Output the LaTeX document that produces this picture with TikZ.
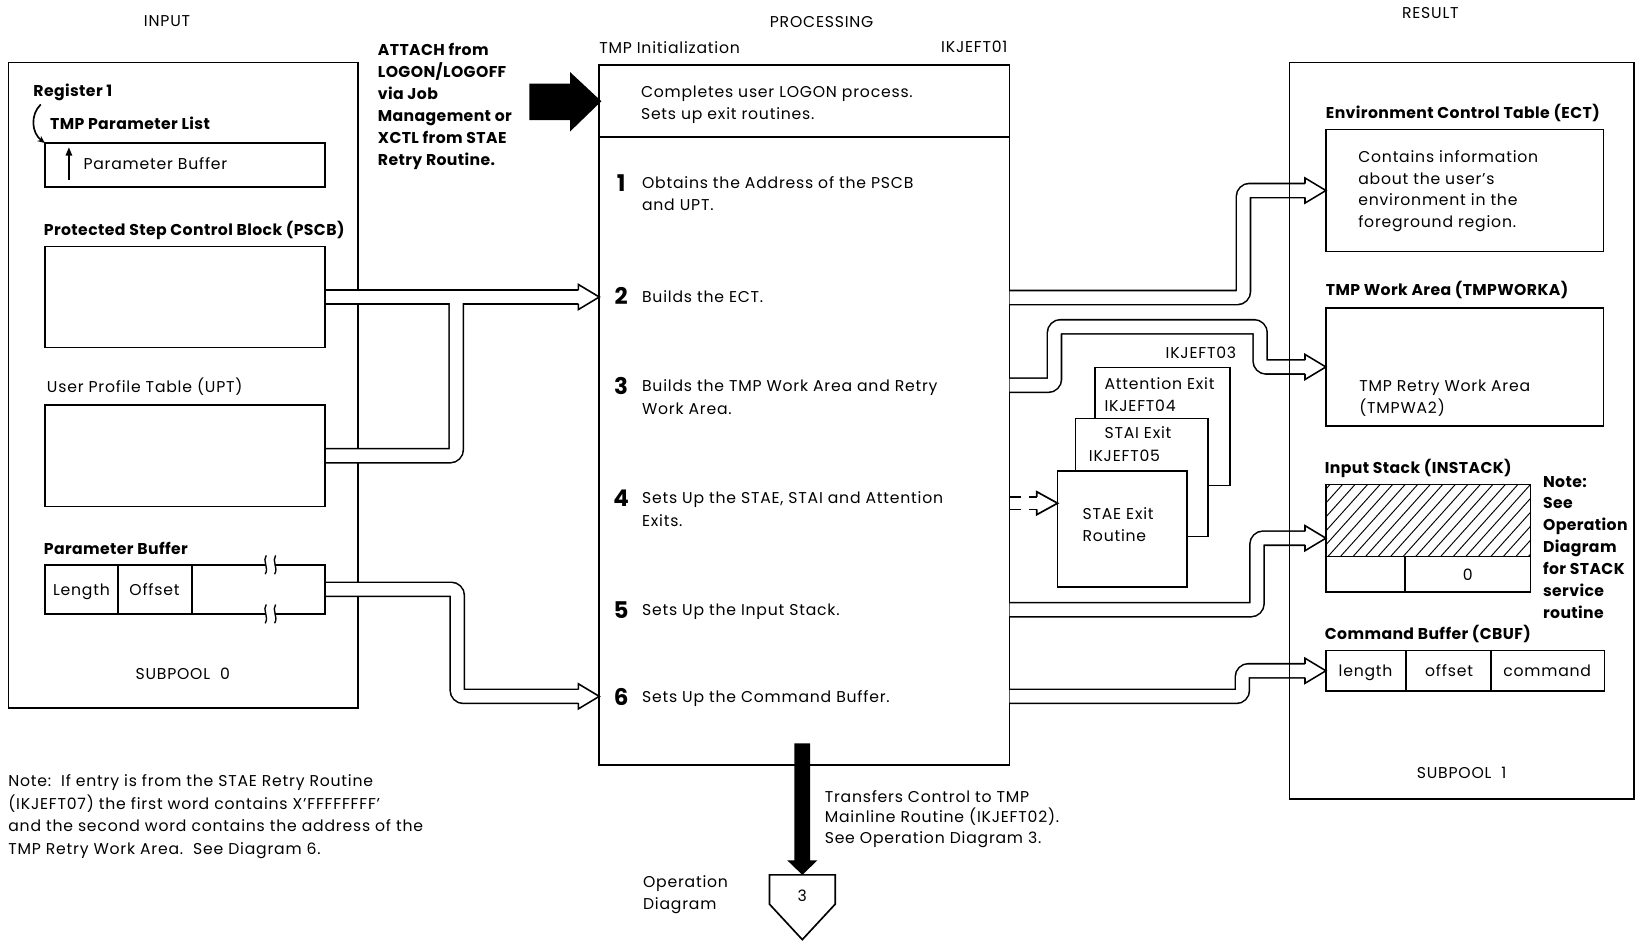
\documentclass[tikz,border=0pt]{standalone}
\usepackage{fontspec}
\setmainfont{Poppins}[LetterSpace=5,BoldFeatures={LetterSpace=2.5}]
\usetikzlibrary{arrows.meta,calc}
\newcommand\fs{\fontsize{15}{18}\selectfont}
\newcommand\fn{\fontsize{22}{24}\selectfont\bfseries}
\newcommand\bx[5]{\node[bxs, minimum width=#4pt, minimum height=#5pt] (#1) at (#2,#3) {};}
\begin{document}
\begin{tikzpicture}[x=1pt,y=-1pt,
  every node/.style={inner sep=0pt, outer sep=0pt},
  t/.style={anchor=base west, font=\fs, yshift=-5.3pt},
  tb/.style={t, font=\fs\bfseries},
  tc/.style={t, anchor=base},
  tr/.style={t, anchor=base east},
  num/.style={anchor=base, font=\fn, yshift=-8pt},
  bxs/.style={draw, line width=1.6pt, anchor=north west},
  ln/.style={line width=1.6pt},
  pipeB/.style={line width=15pt, rounded corners=6pt},
  pipeW/.style={line width=12pt, white, rounded corners=6pt},
  phead/.pic={\fill[white] (-20,-12) -- (0,0) -- (-20,12) -- cycle;
    \draw[line width=1.5pt, line join=miter] (-20,-6.5) -- (-20,-12) -- (0,0) -- (-20,12) -- (-20,6.5);},
]
\useasboundingbox (0,0) rectangle (1568,901);

% ---------- headers ----------
\node[tc] (hin) at (160,20) {INPUT};
\node[tc] (hpr) at (787,21) {PROCESSING};
\node[tc] (hre) at (1370,12) {RESULT};

% ---------- input outer box ----------
\bx{inbox}{8}{60}{335}{618}

% ---------- processing box ----------
\bx{proc}{574}{62}{393}{671}
\draw[ln] (574,131) -- (967,131);

% ---------- pipes (black then white) ----------
\coordinate (t2) at (574,284.5);
\coordinate (t6) at (574,667);
\coordinate (j2) at (437,284.5);
\def\PA{(386,284.5) -- ($(t2)+(-19,0)$)}
\def\PAa{(311,284.5) -- (386,284.5)}
\def\PB{(311,436.5) -- (437,436.5) -- (j2)}
\def\PC{(311,564.5) -- (438,564.5) -- (438,667) -- ($(t6)+(-19,0)$)}
\def\PD{(967,285) -- (1191,285) -- (1191,182.5) -- (1250,182.5)}
\def\PE{(967,369) -- (1010,369) -- (1010,313) -- (1207,313) -- (1207,351.5) -- (1250,351.5)}
\def\PF{(967,584) -- (1204,584) -- (1204,515.5) -- (1250,515.5)}
\def\PG{(967,667) -- (1190,667) -- (1190,642.5) -- (1250,642.5)}
\foreach \p in {\PAa,\PA,\PB,\PC,\PD,\PE,\PF,\PG}{\draw[pipeB] \p;}
\foreach \p in {\PAa,\PA,\PB,\PC,\PD,\PE,\PF,\PG}{\draw[pipeW] \p;}

% ---------- input inner boxes ----------
\node[tb] (reg) at (32,87) {Register 1};
\node[tb] (tpl) at (48,119) {TMP Parameter List};
\bx{plist}{43}{137}{268}{42}
\draw[ln, -{Stealth[length=7pt,width=6pt]}] (39,100) .. controls (29,110) and (30,127) .. (plist.north west);
\draw[ln, -{Triangle[length=8pt,width=6pt]}] (66,172) -- (66,141);
\node[t] (pbt) at (80,157) {Parameter Buffer};
\node[tb] (pscbl) at (42,220) {Protected Step Control Block (PSCB)};
\bx{pscb}{43}{236}{268}{97}
\node[t] (uptl) at (45,371) {User Profile Table (UPT)};
\bx{upt}{43}{388}{268}{97}
\node[tb] (pbl) at (42,526) {Parameter Buffer};
\bx{pbuf}{43}{541}{268}{47}
\draw[ln] (113,541) -- (113,588) (184,541) -- (184,588);
\fill[white] (254,536) rectangle (263,546) (254,583) rectangle (263,593);
\foreach \yy in {541,588}{
  \draw[line width=1.3pt] (255,\yy-9) .. controls (251,\yy-4) and (258,\yy+3) .. (254,\yy+9);
  \draw[line width=1.3pt] (264,\yy-9) .. controls (260,\yy-4) and (267,\yy+3) .. (263,\yy+9);}
\node[tc] (len) at (78,565) {Length};
\node[tc] (off) at (148,565) {Offset};
\node[tc] (sp0) at (175,646) {SUBPOOL\ \ 0};

% ---------- note bottom left ----------
\node[t] (n1) at (8,748) {Note:\ \ If entry is from the STAE Retry Routine};
\node[t] (n2) at (8,770) {(IKJEFT07) the first word contains X'FFFFFFFF'};
\node[t] (n3) at (8,791) {and the second word contains the address of the};
\node[t] (n4) at (8,813) {TMP Retry Work Area.\ \ See Diagram 6.};

% ---------- attach text + black arrow ----------
\node[tb] (a1) at (362,48) {ATTACH from};
\node[tb] (a2) at (362,69) {LOGON/LOGOFF};
\node[tb] (a3) at (362,90) {via Job};
\node[tb] (a4) at (362,111) {Management or};
\node[tb] (a5) at (362,132) {XCTL from STAE};
\node[tb] (a6) at (362,153) {Retry Routine.};
\coordinate (atip) at (576,97);
\fill ($(atip)+(-69,-17)$) -- ($(atip)+(-30,-17)$) -- ($(atip)+(-30,-28)$) -- (atip)
  -- ($(atip)+(-30,29)$) -- ($(atip)+(-30,18)$) -- ($(atip)+(-69,18)$) -- cycle;

% ---------- processing texts ----------
\node[t] (tmpi) at (574,46) {TMP Initialization};
\node[tr] (ik01) at (965,45) {IKJEFT01};
\node[t] (c1) at (614,88) {Completes user LOGON process.};
\node[t] (c2) at (614,109) {Sets up exit routines.};
\node[num] (n1s) at (595,175) {1};
\node[t] (s1a) at (615,175) {Obtains the Address of the PSCB};
\node[t] (s1b) at (615,196) {and UPT.};
\node[num] (n2s) at (595,284) {2};
\node[t] (s2a) at (615,284) {Builds the ECT.};
\node[num] (n3s) at (595,370) {3};
\node[t] (s3a) at (615,370) {Builds the TMP Work Area and Retry};
\node[t] (s3b) at (615,392) {Work Area.};
\node[num] (n4s) at (595,477) {4};
\node[t] (s4a) at (615,477) {Sets Up the STAE, STAI and Attention};
\node[t] (s4b) at (615,499) {Exits.};
\node[num] (n5s) at (595,584) {5};
\node[t] (s5a) at (615,584) {Sets Up the Input Stack.};
\node[num] (n6s) at (595,668) {6};
\node[t] (s6a) at (615,668) {Sets Up the Command Buffer.};

% arrow heads into processing box
\pic at (t2) {phead};
\pic at (t6) {phead};

% ---------- bottom arrow and connector ----------
\coordinate (btip) at (768.5,838);
\fill ($(btip)+(-7.5,-126)$) -- ($(btip)+(7.5,-126)$) -- ($(btip)+(7.5,-14)$) -- ($(btip)+(14.5,-14)$)
  -- (btip) -- ($(btip)+(-14.5,-14)$) -- ($(btip)+(-7.5,-14)$) -- cycle;
\draw[ln, line join=miter] (737,838) -- (800,838) -- (800,866) -- (768.5,900) -- (737,866) -- cycle;
\node[tc] (od3) at (768.5,858) {3};
\node[t] (tr1) at (790,763) {Transfers Control to TMP};
\node[t] (tr2) at (790,783) {Mainline Routine (IKJEFT02).};
\node[t] (tr3) at (790,803) {See Operation Diagram 3.};
\node[t] (op1) at (616,845) {Operation};
\node[t] (op2) at (616,866) {Diagram};

% ---------- exit routine stack ----------
\node[tr] (ik03) at (1184,338) {IKJEFT03};
\node[bxs, fill=white, minimum width=129pt, minimum height=113pt] (att) at (1049,352) {};
\node[t] (att1) at (1058,368) {Attention Exit};
\node[t] (att2) at (1058,389) {IKJEFT04};
\node[bxs, fill=white, minimum width=127pt, minimum height=113pt] (stai) at (1030,401) {};
\node[t] (stai1) at (1058,415) {STAI Exit};
\node[t] (stai2) at (1043,437) {IKJEFT05};
\node[bxs, fill=white, minimum width=124pt, minimum height=111pt] (stae) at (1013,451) {};
\node[t] (stae1) at (1037,492) {STAE Exit};
\node[t] (stae2) at (1037,513) {Routine};
\coordinate (dtip) at (1013,482);
\draw[ln, dash pattern=on 11pt off 8pt] (967,476) -- (993,476) (967,488) -- (993,488);
\draw[ln, line join=miter] (993,476) -- (993,471) -- (dtip) -- (993,493) -- (993,488);

% ---------- result box ----------
\bx{resbox}{1235}{60}{330}{705}
\node[tb] (ectl) at (1270,108) {Environment Control Table (ECT)};
\bx{ect}{1270}{124}{266}{117}
\node[t] (e1) at (1301,150) {Contains information};
\node[t] (e2) at (1301,171) {about the user's};
\node[t] (e3) at (1301,192) {environment in the};
\node[t] (e4) at (1301,213) {foreground region.};
\node[tb] (tmwl) at (1270,278) {TMP Work Area (TMPWORKA)};
\bx{tmpw}{1270}{295}{266}{113}
\node[t] (tw1) at (1302,370) {TMP Retry Work Area};
\node[t] (tw2) at (1302,391) {(TMPWA2)};
\node[tb] (insl) at (1269,448) {Input Stack (INSTACK)};
\bx{ins}{1270}{464}{196}{103}
\begin{scope}
  \clip (1270,464) rectangle (1466,533);
  \foreach \xx in {1200,1212,...,1470}{\draw[line width=0.9pt] (\xx,533) -- (\xx+62,464);}
\end{scope}
\draw[ln] (1270,533) -- (1466,533) (1346,533) -- (1346,567);
\node[tc] (zero) at (1406,551) {0};
\node[tb] (nt1) at (1478,462) {Note:};
\node[tb] (nt2) at (1478,482) {See};
\node[tb] (nt3) at (1478,503) {Operation};
\node[tb] (nt4) at (1478,524) {Diagram};
\node[tb] (nt5) at (1478,545) {for STACK};
\node[tb] (nt6) at (1478,566) {service};
\node[tb] (nt7) at (1478,587) {routine};
\node[tb] (cbl) at (1269,607) {Command Buffer (CBUF)};
\bx{cbuf}{1270}{623}{267}{39}
\draw[ln] (1347,623) -- (1347,662) (1428,623) -- (1428,662);
\node[tc] (cl) at (1308,643) {length};
\node[tc] (co) at (1388,643) {offset};
\node[tc] (cc) at (1482,643) {command};
\node[tc] (sp1) at (1400,740) {SUBPOOL\ \ 1};

\pic at (ect.west) {phead};
\pic at (tmpw.west) {phead};
\pic at (ins.west) {phead};
\pic at (cbuf.west) {phead};
\end{tikzpicture}
\end{document}
